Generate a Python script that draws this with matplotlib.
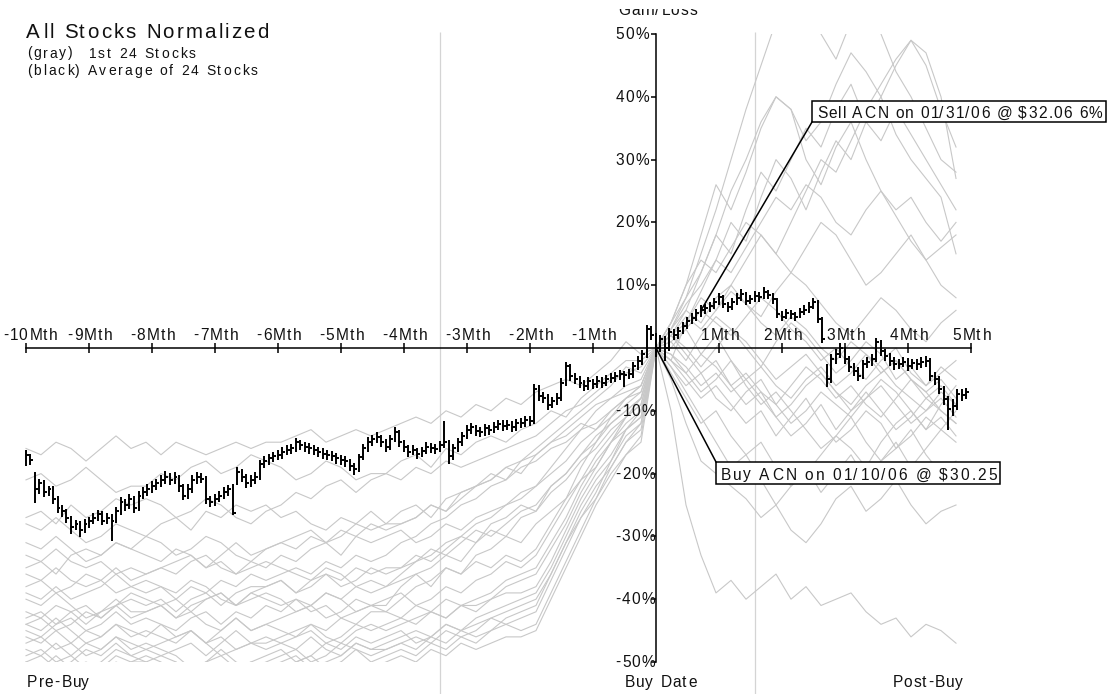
import numpy as np
import matplotlib
matplotlib.use("Agg")
import matplotlib.pyplot as plt
from matplotlib.patches import Rectangle
from matplotlib import font_manager
from matplotlib.ft2font import FT2Font

# ---------------------------------------------------------------- data
month_ticks = [-10, -9, -8, -7, -6, -5, -4, -3, -2, -1, 0, 1, 2, 3, 4, 5]
month_labels = ['-10Mth', '-9Mth', '-8Mth', '-7Mth', '-6Mth', '-5Mth', '-4Mth',
                '-3Mth', '-2Mth', '-1Mth', '', '1Mth', '2Mth', '3Mth', '4Mth', '5Mth']
pct_ticks = [50, 40, 30, 20, 10, -10, -20, -30, -40, -50]
pct_labels = ['50%', '40%', '30%', '20%', '10%', '-10%', '-20%', '-30%', '-40%', '-50%']

# average of the stocks, one bar every 1.5 trading days (14 bars per month)
bars_per_month = 14
avg_close = [
    -17.0, -17.8, -22.5, -21.5, -23.0, -22.5, -24.0, -25.5, -26.0, -27.0,
    -28.5, -28.0, -29.0, -28.0, -27.5, -27.0, -26.5, -27.5, -27.0, -27.5,
    -26.0, -24.5, -25.0, -24.0, -25.5, -23.5, -23.0, -22.5, -22.0, -21.5,
    -21.0, -20.5, -21.0, -20.5, -22.0, -23.5, -22.5, -21.0, -20.5, -20.8,
    -24.0, -24.5, -24.0, -23.5, -23.0, -22.5, -26.3, -19.8, -20.5, -21.5,
    -21.0, -20.5, -18.5, -18.0, -17.5, -17.2, -17.0, -16.5, -16.2, -16.0,
    -15.0, -15.5, -15.8, -16.0, -16.3, -16.6, -16.8, -17.0, -17.2, -17.5,
    -17.8, -18.0, -18.8, -19.3, -17.4, -16.0, -15.0, -14.5, -14.2, -15.0,
    -15.8, -14.5, -13.3, -15.0, -15.8, -16.5, -16.2, -16.8, -16.4, -15.7,
    -15.9, -16.1, -15.5, -14.9, -17.2, -16.0, -15.0, -14.0, -13.0, -12.6,
    -13.2, -13.3, -12.8, -13.0, -12.5, -12.1, -12.4, -12.2, -12.5, -12.0,
    -11.9, -11.5, -11.7, -6.5, -7.6, -8.0, -9.0, -8.5, -7.9, -5.5,
    -2.8, -4.5, -5.0, -5.5, -6.0, -5.3, -5.8, -5.2, -5.5, -5.0,
    -4.7, -4.5, -4.2, -4.3, -4.2, -2.9, -2.0, -1.0, 3.0, 2.0,
    0.0, 1.4, 0.0, 2.5, 2.0, 2.7, 3.5, 4.3, 4.8, 5.5,
    6.0, 6.3, 6.7, 7.3, 8.1, 7.0, 6.5, 7.3, 8.0, 8.6,
    7.5, 7.8, 8.3, 8.1, 8.9, 8.5, 7.8, 5.4, 5.0, 5.5,
    5.4, 5.0, 5.7, 6.0, 6.5, 7.3, 4.6, 1.4, -5.0, -1.8,
    -1.0, 0.0, -1.8, -3.0, -3.7, -4.5, -2.6, -2.2, -1.8, 1.0,
    -0.5, -1.3, -2.0, -2.6, -2.5, -2.2, -2.8, -2.4, -2.6, -2.3,
    -2.1, -4.5, -5.0, -6.5, -8.1, -9.7, -9.3, -7.3, -7.5, -7.0,
]
avg_high = [
    -16.3, -16.9, -19.8, -20.8, -21.0, -21.9, -22.0, -23.6, -25.0, -25.6,
    -26.8, -27.4, -27.6, -27.3, -26.9, -26.2, -25.8, -26.0, -26.3, -26.5,
    -25.3, -23.8, -24.0, -23.2, -23.5, -22.8, -22.2, -21.7, -21.2, -20.8,
    -20.2, -19.6, -19.9, -19.8, -20.2, -21.6, -21.7, -20.3, -19.7, -19.9,
    -20.4, -23.5, -23.2, -22.8, -22.1, -21.8, -21.6, -19.0, -19.3, -20.1,
    -20.3, -19.8, -17.9, -17.2, -16.8, -16.5, -16.2, -15.8, -15.4, -15.3,
    -14.3, -14.6, -15.0, -15.2, -15.5, -15.8, -16.0, -16.2, -16.4, -16.7,
    -17.0, -17.2, -17.6, -18.3, -16.8, -15.3, -14.2, -13.8, -13.4, -13.8,
    -14.5, -13.9, -12.6, -13.1, -14.6, -15.4, -15.5, -15.9, -15.7, -15.0,
    -15.1, -15.3, -14.8, -11.7, -14.6, -15.3, -14.3, -13.3, -12.3, -11.9,
    -12.2, -12.5, -12.1, -12.2, -11.8, -11.4, -11.5, -11.5, -11.6, -11.3,
    -11.1, -10.8, -10.9, -5.8, -5.9, -7.0, -7.4, -7.8, -7.1, -4.8,
    -2.2, -2.5, -4.0, -4.4, -5.1, -4.6, -4.9, -4.5, -4.6, -4.3,
    -4.0, -3.8, -3.5, -3.6, -3.4, -2.2, -1.3, -0.3, 3.6, 3.5,
    2.4, 2.1, 1.9, 3.2, 3.0, 3.4, 4.2, 5.0, 5.5, 6.2,
    6.8, 7.0, 7.4, 8.0, 8.8, 8.4, 7.4, 8.0, 8.7, 9.4,
    8.9, 8.5, 9.0, 8.9, 9.7, 9.3, 8.8, 8.0, 5.9, 6.2,
    6.1, 5.8, 6.4, 6.8, 7.3, 8.0, 7.6, 5.0, -2.5, -1.0,
    -0.2, 0.8, 0.2, -1.2, -2.4, -3.1, -1.9, -1.5, -1.0, 1.6,
    1.2, -0.1, -0.8, -1.5, -1.7, -1.4, -1.6, -1.7, -1.8, -1.5,
    -1.3, -1.6, -3.9, -4.5, -6.0, -7.6, -8.2, -6.6, -6.6, -6.3,
]
avg_low = [
    -18.8, -18.6, -24.7, -23.2, -23.8, -23.6, -24.8, -26.2, -26.9, -27.8,
    -29.6, -29.0, -30.1, -29.5, -28.6, -28.0, -27.5, -28.2, -28.1, -30.8,
    -27.9, -26.6, -25.9, -25.6, -26.3, -25.9, -24.0, -23.6, -23.1, -22.6,
    -22.1, -21.6, -21.8, -21.7, -22.9, -24.2, -24.0, -23.1, -21.6, -21.5,
    -24.9, -25.3, -25.1, -24.6, -24.0, -23.6, -26.6, -21.8, -21.4, -22.3,
    -22.2, -21.6, -21.0, -19.1, -18.6, -18.1, -17.9, -17.6, -17.1, -16.9,
    -16.6, -16.2, -16.6, -16.8, -17.1, -17.4, -17.6, -17.9, -18.0, -18.4,
    -18.7, -18.9, -19.6, -20.3, -19.8, -17.9, -16.5, -15.6, -15.2, -15.8,
    -16.6, -16.3, -14.9, -15.7, -16.6, -17.3, -17.1, -17.6, -17.4, -16.9,
    -16.7, -16.9, -16.6, -16.0, -18.5, -17.8, -16.6, -15.6, -14.5, -13.7,
    -14.0, -14.1, -14.0, -13.8, -13.6, -13.1, -13.2, -13.1, -13.3, -13.2,
    -12.8, -12.6, -12.4, -12.1, -8.4, -8.8, -9.9, -9.6, -9.1, -8.4,
    -6.0, -5.3, -5.8, -6.3, -6.9, -6.7, -6.6, -6.4, -6.3, -6.1,
    -5.6, -5.4, -5.1, -6.2, -5.0, -4.8, -3.5, -2.7, -1.6, 1.2,
    -1.5, -0.6, -2.0, -0.5, 1.2, 1.5, 2.2, 3.1, 3.8, 4.3,
    5.0, 5.4, 5.8, 6.2, 6.9, 6.3, 5.7, 6.0, 6.9, 7.5,
    6.8, 7.0, 7.3, 7.4, 7.8, 7.8, 7.0, 4.7, 4.3, 4.6,
    4.6, 4.3, 4.7, 5.2, 5.6, 6.2, 4.0, 0.8, -6.2, -5.5,
    -2.5, -1.6, -2.6, -3.8, -4.5, -5.3, -4.9, -3.2, -2.8, -2.3,
    -1.2, -2.1, -2.8, -3.5, -3.4, -3.1, -3.6, -3.4, -3.5, -3.2,
    -3.0, -5.3, -5.9, -7.3, -9.0, -13.0, -10.9, -9.9, -8.4, -8.1,
]

# the 24 individual stocks, weekly, relative to the buy date (week 0)
weeks = np.arange(-42, 21)
s01 = [-16, -17, -15, -16, -18, -16, -14, -16, -15, -17, -15, -16, -17, -16, -15, -16, -15, -15, -14, -13, -15, -14, -13, -14, -13, -12, -11, -12, -10, -11, -9, -10, -8, -9, -7, -6, -5, -6, -4, -2, 1, -1, 0, 2, 4, 8, 6, 10, 14, 18, 15, 12, 16, 20, 18, 14, 10, 12, 15, 18, 14, 10, 8]
s02 = [-21, -20, -22, -21, -19, -21, -23, -22, -22, -20, -21, -19, -18, -20, -19, -17, -18, -19, -21, -20, -18, -19, -21, -20, -20, -18, -17, -19, -16, -17, -15, -14, -15, -13, -12, -10, -11, -8, -6, -4, -2, -2, 0, 4, 10, 18, 26, 22, 28, 35, 40, 38, 30, 26, 32, 36, 30, 25, 22, 24, 20, 17, 20]
s03 = [-27, -26, -28, -25, -27, -26, -24, -25, -24, -25, -27, -26, -24, -25, -27, -28, -26, -25, -23, -24, -22, -21, -23, -21, -20, -21, -19, -20, -18, -19, -18, -17, -16, -15, -14, -12, -10, -9, -7, -5, -4, -3, 0, 2, 5, 3, 6, 9, 7, 4, 2, 5, 3, 0, -2, 1, -1, -4, -2, -5, -7, -5, -8]
s04 = [-28, -29, -27, -29, -31, -30, -28, -29, -30, -28, -27, -29, -26, -27, -25, -26, -25, -27, -26, -28, -29, -27, -28, -26, -28, -26, -25, -27, -24, -23, -22, -21, -19, -18, -16, -14, -12, -10, -8, -6, -3, -4, 0, 3, 8, 15, 22, 30, 38, 45, 52, 58, 55, 50, 46, 52, 56, 50, 44, 40, 35, 30, 28]
s05 = [-31, -32, -30, -32, -34, -33, -31, -32, -33, -34, -32, -33, -35, -34, -36, -34, -35, -33, -34, -32, -31, -33, -30, -31, -30, -29, -31, -30, -28, -29, -27, -26, -25, -23, -22, -19, -16, -13, -10, -8, -6, -5, 0, 1, -2, 2, 5, 3, 0, -3, 1, 4, 2, -1, -4, -2, 1, -1, -5, -3, -6, -4, -2]
s06 = [-35, -34, -36, -33, -32, -33, -31, -32, -30, -31, -33, -32, -30, -31, -33, -34, -32, -31, -30, -29, -31, -30, -28, -29, -28, -28, -27, -25, -26, -24, -22, -21, -19, -20, -17, -15, -13, -11, -9, -8, -7, -6, 0, -3, -6, -4, -8, -10, -7, -5, -9, -12, -10, -7, -9, -11, -8, -6, -9, -12, -10, -8, -11]
s07 = [-38, -37, -39, -38, -36, -37, -35, -37, -36, -35, -36, -34, -33, -35, -36, -35, -34, -35, -36, -37, -35, -36, -38, -37, -38, -36, -34, -33, -31, -30, -28, -27, -25, -24, -22, -20, -18, -15, -13, -11, -9, -7, 0, 2, 6, 12, 18, 25, 30, 36, 40, 38, 33, 36, 42, 47, 44, 40, 45, 49, 47, 40, 27]
s08 = [-40, -41, -39, -41, -43, -42, -40, -42, -42, -41, -43, -41, -40, -39, -41, -39, -38, -37, -39, -38, -36, -37, -35, -36, -35, -35, -34, -32, -33, -31, -29, -30, -28, -26, -25, -22, -20, -17, -14, -12, -10, -8, 0, -2, -5, -8, -6, -9, -12, -10, -14, -11, -8, -12, -15, -13, -10, -12, -16, -14, -11, -13, -15]
s09 = [-42, -43, -41, -42, -44, -42, -41, -39, -40, -41, -43, -42, -44, -45, -43, -45, -44, -43, -42, -41, -39, -40, -38, -39, -38, -37, -36, -38, -35, -36, -34, -35, -33, -34, -32, -28, -24, -19, -15, -11, -8, -6, 0, 3, 7, 10, 14, 12, 16, 20, 24, 22, 26, 24, 20, 18, 22, 25, 21, 17, 14, 16, 18]
s10 = [-44, -45, -43, -45, -47, -46, -44, -45, -46, -44, -45, -43, -42, -44, -42, -43, -41, -42, -40, -41, -43, -42, -40, -41, -40, -39, -41, -40, -38, -39, -37, -36, -34, -35, -33, -29, -25, -21, -17, -14, -11, -9, 0, 2, -1, -4, -2, -6, -9, -7, -11, -14, -12, -9, -13, -10, -7, -10, -13, -11, -8, -10, -12]
s11 = [-45, -46, -44, -43, -45, -44, -42, -44, -43, -44, -46, -45, -47, -46, -48, -47, -47, -46, -45, -44, -45, -43, -44, -42, -42, -43, -41, -42, -40, -41, -40, -39, -37, -36, -35, -31, -27, -22, -18, -15, -12, -10, 0, 4, 10, 14, 12, 16, 20, 18, 15, 20, 25, 30, 28, 33, 38, 42, 46, 49, 45, 38, 32]
s12 = [-46, -47, -45, -47, -49, -48, -46, -47, -48, -47, -46, -45, -47, -45, -43, -45, -44, -45, -46, -44, -46, -47, -45, -44, -45, -44, -43, -42, -43, -41, -41, -40, -38, -37, -36, -32, -28, -23, -19, -15, -11, -8, 0, -4, -8, -12, -10, -14, -17, -15, -19, -22, -20, -17, -14, -16, -19, -15, -12, -10, -13, -9, -6]
s13 = [-47, -46, -48, -47, -45, -46, -44, -46, -45, -46, -47, -45, -47, -49, -48, -47, -48, -47, -46, -45, -47, -46, -44, -45, -44, -43, -44, -42, -43, -41, -42, -40, -39, -39, -38, -34, -29, -24, -20, -17, -13, -11, 0, -2, 4, 9, 14, 20, 17, 24, 30, 27, 22, 28, 33, 30, 36, 40, 34, 30, 27, 24, 15]
s14 = [-48, -49, -47, -49, -51, -50, -48, -49, -50, -49, -48, -47, -49, -47, -45, -47, -46, -47, -48, -46, -48, -49, -47, -48, -47, -46, -45, -46, -44, -45, -43, -42, -41, -40, -39, -35, -30, -25, -21, -18, -14, -12, 0, -5, -12, -18, -20, -22, -24, -27, -25, -29, -31, -28, -24, -22, -26, -24, -21, -25, -28, -26, -25]
s15 = [-49, -48, -50, -49, -47, -48, -46, -48, -47, -48, -49, -51, -50, -48, -50, -51, -50, -49, -48, -50, -49, -47, -48, -49, -48, -47, -46, -47, -45, -46, -45, -43, -42, -41, -40, -36, -31, -26, -22, -19, -15, -13, 0, 3, 6, 4, 8, 10, 7, 5, 9, 12, 10, 7, 4, 2, 5, 8, 6, 3, 1, 4, 6]
s16 = [-50, -51, -49, -51, -53, -52, -50, -51, -52, -51, -50, -52, -50, -49, -51, -50, -49, -48, -50, -49, -47, -48, -46, -47, -46, -45, -47, -46, -44, -45, -44, -43, -44, -43, -42, -37, -32, -27, -23, -18, -13, -10, 0, -10, -25, -33, -39, -37, -40, -38, -36, -40, -38, -41, -40, -39, -42, -44, -43, -46, -44, -45, -47]
s17 = [-52, -51, -53, -51, -50, -51, -49, -50, -49, -50, -52, -51, -50, -52, -51, -50, -51, -50, -49, -51, -50, -49, -47, -48, -48, -47, -48, -46, -47, -45, -46, -45, -44, -45, -44, -39, -34, -29, -24, -19, -15, -12, 0, 0, 3, -1, 2, -2, -5, -3, -6, -8, -5, -3, -6, -4, -1, -3, -6, -8, -10, -7, -9]
s18 = [-55, -54, -53, -55, -52, -51, -52, -50, -50, -51, -53, -52, -54, -53, -51, -52, -53, -52, -51, -53, -51, -50, -52, -51, -50, -49, -50, -48, -49, -47, -48, -47, -46, -46, -45, -40, -35, -30, -25, -21, -17, -14, 0, -1, -3, -6, -4, -7, -5, -8, -11, -9, -6, -4, -7, -10, -8, -5, -7, -10, -13, -11, -14]
s19 = [-43, -42, -44, -42, -41, -43, -41, -40, -41, -40, -42, -40, -39, -41, -39, -38, -38, -37, -39, -37, -36, -38, -37, -35, -36, -35, -33, -34, -32, -30, -31, -28, -27, -25, -26, -23, -21, -18, -16, -13, -11, -9, 0, -3, -7, -11, -15, -19, -17, -21, -25, -22, -19, -23, -20, -17, -21, -18, -15, -19, -16, -13, -10]
s20 = [-36, -37, -35, -37, -38, -37, -39, -38, -39, -38, -40, -38, -39, -37, -38, -36, -37, -36, -35, -36, -34, -35, -33, -34, -33, -31, -30, -28, -27, -25, -24, -22, -21, -19, -18, -16, -15, -13, -12, -10, -8, -7, 0, 1, 3, 6, 4, 2, 5, 8, 6, 3, 1, -2, 0, -3, -5, -2, 0, -4, -6, -3, -5]
s21 = [-33, -34, -32, -34, -35, -34, -36, -35, -36, -35, -34, -33, -35, -33, -31, -33, -32, -31, -32, -30, -31, -29, -30, -28, -29, -28, -27, -25, -26, -23, -22, -20, -21, -18, -17, -15, -14, -12, -13, -10, -8, -6, 0, -2, -4, -1, -3, -6, -4, -7, -9, -6, -3, -5, -8, -6, -9, -11, -8, -5, -7, -10, -12]
s22 = [-39, -40, -38, -40, -39, -38, -36, -38, -37, -38, -39, -37, -38, -40, -41, -39, -40, -41, -40, -42, -41, -43, -42, -41, -42, -40, -38, -37, -35, -36, -33, -32, -30, -31, -28, -26, -24, -21, -19, -15, -13, -11, 0, 4, 8, 12, 18, 15, 22, 28, 25, 30, 35, 32, 38, 42, 36, 33, 38, 34, 30, 26, 22]
s23 = [-44, -43, -45, -44, -42, -43, -41, -43, -42, -41, -40, -42, -40, -39, -41, -40, -39, -40, -42, -41, -39, -40, -42, -41, -41, -38, -36, -35, -33, -34, -31, -29, -30, -27, -26, -22, -20, -17, -15, -12, -10, -8, 0, -1, -4, -7, -5, -2, -6, -9, -7, -10, -13, -16, -14, -11, -15, -18, -16, -13, -17, -20, -18]
s24 = [-50, -49, -51, -50, -48, -49, -47, -49, -48, -49, -50, -52, -51, -53, -52, -51, -52, -51, -50, -49, -51, -50, -48, -50, -49, -48, -49, -47, -48, -46, -47, -45, -43, -42, -41, -36, -31, -27, -24, -20, -17, -15, 0, 2, 0, -3, 0, 3, 1, -2, -5, -3, -1, -4, -7, -9, -6, -4, -2, -5, -8, -6, -9]
stocks = [s01, s02, s03, s04, s05, s06, s07, s08, s09, s10, s11, s12,
          s13, s14, s15, s16, s17, s18, s19, s20, s21, s22, s23, s24]

# trade
ticker = 'ACN'
buy_date, buy_price, buy_month, buy_gain = '01/10/06', 30.25, 0.0, 0.0
sell_date, sell_price, sell_day, sell_gain = '01/31/06', 32.06, 15, 6.0

# ---------------------------------------------------------------- layout
W, H, DPI = 1120, 694, 100
X0, PPM = 656.0, 63.0      # pixel of the buy date, pixels per month
Y0, PPP = 348.0, 6.28      # pixel of 0 %, pixels per percent
GRAY = '#c8c8c8'
FAMILY = 'Liberation Sans'
LABEL_PT, LABEL_TRACK = 11.2, 1.2


def mx(xp):
    return (xp - X0) / PPM


def py(yp):
    return (Y0 - yp) / PPP


fig = plt.figure(figsize=(W / DPI, H / DPI), dpi=DPI)
fig.patch.set_facecolor('white')
ax = fig.add_axes([0, 0, 1, 1])
ax.set_xlim(mx(0), mx(W))
ax.set_ylim(py(H), py(0))
ax.axis('off')

# letter-spaced text in pixel coordinates (origin top-left)
FONT_PATH = font_manager.findfont(font_manager.FontProperties(family=FAMILY))


def spaced_text(x, y, s, size, track, ha='left', color='#111111', width=None):
    face = FT2Font(FONT_PATH)
    face.set_size(size, DPI)
    adv, bear = [], []
    for ch in s:
        g = face.load_char(ord(ch))
        adv.append(g.linearHoriAdvance / 65536.0)
        bear.append(g.horiBearingX / 64.0)
    if width is not None:
        track = (width - sum(adv)) / (len(s) - 1)
    total = sum(adv) + track * (len(s) - 1)
    if ha == 'center':
        x -= total / 2
    elif ha == 'right':
        x -= total
    pen = x
    for ch, a, b in zip(s, adv, bear):
        if not ch.isspace():
            fig.text((pen + b) / W, 1 - y / H, ch, fontsize=size, family=FAMILY,
                     ha='left', va='baseline', color=color, zorder=5)
        pen += a + track
    return x, x + total


# section dividers
ax.vlines([mx(440), mx(755)], py(H), py(32), color='#d4d4d4', lw=0.9, zorder=1)

# individual stocks
clip = Rectangle((mx(0), -50), mx(W) - mx(0), 100, transform=ax.transData)
gx = weeks * 5 / 21
for s in stocks:
    line, = ax.plot(gx, s, color=GRAY, lw=0.8, zorder=2)
    line.set_clip_path(clip)

# axes
ax.plot([month_ticks[0], month_ticks[-1]], [0, 0], color='black', lw=1.1, zorder=4)
ax.vlines(month_ticks, -0.8, 0.8, color='black', lw=1.1, zorder=4)
ax.plot([0, 0], [-50, 50], color='black', lw=1.1, zorder=4)
ax.hlines(pct_ticks, -5 / PPM, 0, color='black', lw=1.1, zorder=4)

# average bars (high-low with close tick)
bx = -10 + np.arange(len(avg_close)) / bars_per_month
ax.vlines(bx, avg_low, avg_high, color='black', lw=1.4, zorder=5)
ax.hlines(avg_close, bx, bx + 2.6 / PPM, color='black', lw=1.4, zorder=5)

# tick labels
for m, lab in zip(month_ticks, month_labels):
    if not lab:
        continue
    if m == month_ticks[0]:
        spaced_text(2, 340, lab, LABEL_PT, LABEL_TRACK, ha='left')
    else:
        spaced_text(X0 + m * PPM, 340, lab, LABEL_PT, LABEL_TRACK, ha='center')
for p, lab in zip(pct_ticks, pct_labels):
    spaced_text(615, Y0 - p * PPP + 5, lab, LABEL_PT, LABEL_TRACK, ha='left')

# titles
spaced_text(26, 37.5, 'All Stocks Normalized', 14.8, 2.1)
spaced_text(26, 57.5, '(gray)', 10.0, 2.0)
spaced_text(88, 57.5, '1st 24 Stocks', 10.0, 2.0)
spaced_text(26, 75, '(black) Average of 24 Stocks', 10.0, 2.0)
spaced_text(657, 15, 'Gain/Loss', LABEL_PT, LABEL_TRACK, ha='center')
fig.patches.append(Rectangle((0, 1 - 9 / H), 1, 9 / H, transform=fig.transFigure,
                             facecolor='white', edgecolor='none', zorder=20))

# bottom captions
spaced_text(26, 687, 'Pre-Buy', LABEL_PT, LABEL_TRACK)
spaced_text(660, 687, 'Buy Date', LABEL_PT, LABEL_TRACK, ha='center')
spaced_text(927, 687, 'Post-Buy', LABEL_PT, LABEL_TRACK, ha='center')


# trade annotations: box edges in pixels, text fitted inside
def callout(box_px, text, anchor, corner_px):
    left, top, right, bottom = box_px
    spaced_text(left + 4, bottom - 4.5, text, LABEL_PT, 0, width=right - left - 8)
    ax.add_patch(Rectangle((mx(left), py(bottom)), mx(right) - mx(left),
                           py(top) - py(bottom), facecolor='white',
                           edgecolor='black', lw=1.1, zorder=6))
    ax.plot([anchor[0], mx(corner_px[0])], [anchor[1], py(corner_px[1])],
            color='black', lw=1.1, zorder=6)


callout((716, 462, 1000, 484), f'Buy {ticker} on {buy_date} @ ${buy_price:.2f}',
        (buy_month, buy_gain), (716, 462))
callout((812, 101, 1106, 122),
        f'Sell {ticker} on {sell_date} @ ${sell_price:.2f} {sell_gain:.0f}%',
        (sell_day / 21, sell_gain), (812, 122))

fig.savefig('out.png', dpi=DPI, facecolor='white')
